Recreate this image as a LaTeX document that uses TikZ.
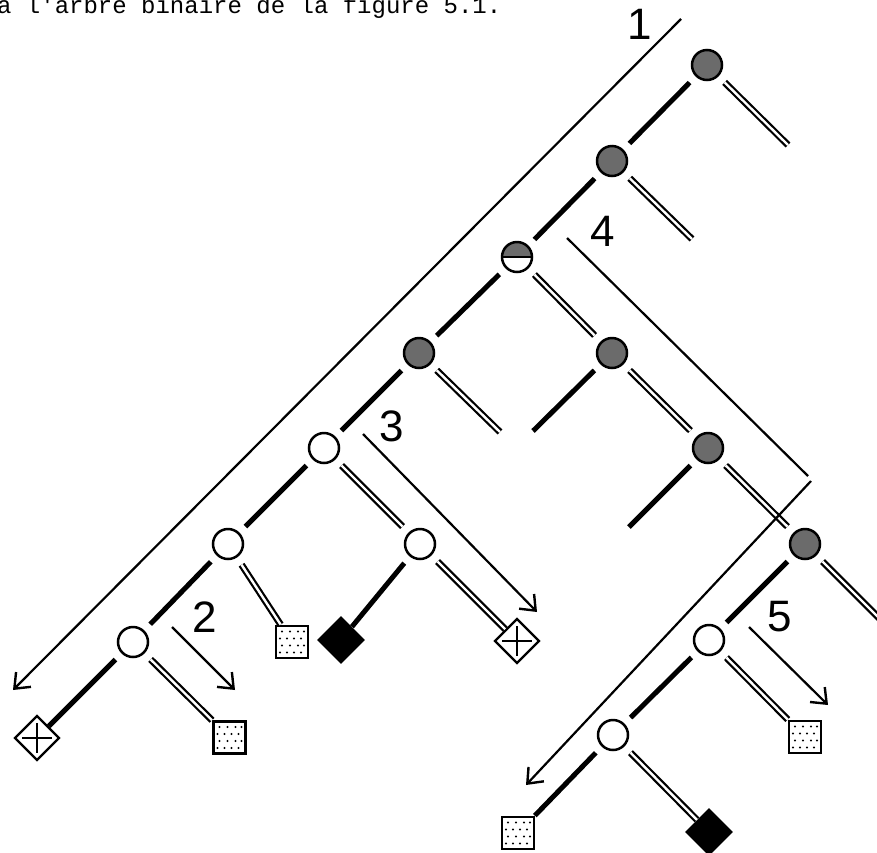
\documentclass[tikz,border=0pt]{standalone}
\usepackage{fontspec}
\setmainfont{Liberation Sans}
\newfontfamily\monofont{Liberation Mono}
\usetikzlibrary{arrows.meta,shapes.geometric}

\tikzset{
  inner/.style={circle, draw, line width=2.5pt, minimum size=30pt, inner sep=0pt},
  full/.style={inner, fill=black!58},
  empty/.style={inner, fill=white},
  half/.style={inner, fill=white, path picture={
      \fill[black!58] (path picture bounding box.west) rectangle (path picture bounding box.north east);
      \draw[black, line width=2.4pt] (path picture bounding box.west) -- (path picture bounding box.east);}},
  sqleaf/.style={rectangle, draw, line width=2.8pt, minimum size=32pt, inner sep=0pt, fill=white,
    path picture={
      \foreach \ddx/\ddy in {-10/-10.5,-2/-10.5,6/-10.5,12/-10.5,
                             -12/-3.5,-5/-3.5,2/-3.5,9/-3.5,
                             -10/3.5,-2/3.5,6/3.5,12/3.5,
                             -12/10.5,-5/10.5,2/10.5,9/10.5}
        \fill[black] (path picture bounding box.center) ++(\ddx,\ddy) circle (1.1);}},
  xleaf/.style={diamond, draw, line width=2.4pt, minimum width=45pt, minimum height=45pt, inner sep=0pt, fill=white,
    path picture={
      \draw[black, line width=2.4pt] (path picture bounding box.center) ++(-15,0) -- ++(30,0);
      \draw[black, line width=2.4pt] (path picture bounding box.center) ++(0,-15) -- ++(0,30);}},
  blackleaf/.style={diamond, fill=black, minimum width=48pt, minimum height=48pt, inner sep=0pt},
  thk/.style={line width=5pt, shorten <=8.5pt},
  dbl/.style={double, line width=2.2pt, double distance=2.4pt, shorten <=8.5pt},
  tonode/.style={shorten >=8.5pt},
  guide/.style={line width=2.2pt},
  arr/.style={guide, -{Straight Barb[length=13pt,width=21pt,line width=2.4pt]}},
  lbl/.style={font=\fontsize{44}{50}\selectfont, inner sep=0pt},
}

\begin{document}
\begin{tikzpicture}[x=1pt, y=-1pt]
\useasboundingbox (0,0) rectangle (877,852);
\clip (0,0) rectangle (877,852);

% text line above the figure
\node[anchor=base west, inner sep=0pt, font=\monofont\fontsize{24}{28}\selectfont] (caption) at (-3,13)
  {à l'arbre binaire de la figure 5.1.};

% inner nodes of the tree
\node[full]  (n1)  at (707,65)  {};
\node[full]  (n2)  at (612,161) {};
\node[half]  (n3)  at (517,257) {};
\node[full]  (n4)  at (419,353) {};
\node[empty] (n5)  at (324,448) {};
\node[empty] (n6)  at (228,544) {};
\node[empty] (n7)  at (133,642) {};
\node[empty] (n8)  at (420,544) {};
\node[full]  (n9)  at (612,353) {};
\node[full]  (n10) at (708,448) {};
\node[full]  (n11) at (805,544) {};
\node[empty] (n12) at (709,640) {};
\node[empty] (n13) at (613,735) {};

% leaves
\node[xleaf]     (x1) at (37,738)    {};
\node[sqleaf]    (s1) at (229.5,737.5) {};
\node[sqleaf]    (s2) at (292,642)   {};
\node[blackleaf] (b1) at (341,640)   {};
\node[xleaf]     (x2) at (517,641)   {};
\node[sqleaf]    (s3) at (805,737)   {};
\node[sqleaf]    (s4) at (518,833)   {};
\node[blackleaf] (b2) at (709,832)   {};

% open ends of branches
\coordinate (e1)  at (788,145);
\coordinate (e2)  at (692,239);
\coordinate (e4)  at (500,432);
\coordinate (e9)  at (533,431);
\coordinate (e10) at (629,527);
\coordinate (e11) at (895,634);

% branches between inner nodes
\draw[thk,tonode] (n1) -- (n2);
\draw[thk,tonode] (n2) -- (n3);
\draw[thk,tonode] (n3) -- (n4);
\draw[thk,tonode] (n4) -- (n5);
\draw[thk,tonode] (n5) -- (n6);
\draw[thk,tonode] (n6) -- (n7);
\draw[dbl,tonode] (n5) -- (n8);
\draw[dbl,tonode] (n3) -- (n9);
\draw[dbl,tonode] (n9) -- (n10);
\draw[dbl,tonode] (n10) -- (n11);
\draw[thk,tonode] (n11) -- (n12);
\draw[thk,tonode] (n12) -- (n13);

% branches to leaves
\draw[thk] (n7) -- (x1);
\draw[dbl] (n7) -- (s1);
\draw[dbl] (n6) -- (s2);
\draw[thk] (n8) -- (b1);
\draw[dbl] (n8) -- (x2);
\draw[dbl] (n12) -- (s3);
\draw[thk] (n13) -- (s4);
\draw[dbl] (n13) -- (b2);

% open branches
\draw[dbl] (n1) -- (e1);
\draw[dbl] (n2) -- (e2);
\draw[dbl] (n4) -- (e4);
\draw[thk] (n9) -- (e9);
\draw[thk] (n10) -- (e10);
\draw[dbl] (n11) -- (e11);

% traversal guides
\coordinate (g1a) at (681,19);   \coordinate (g1b) at (13,690);
\coordinate (g2a) at (172,627);  \coordinate (g2b) at (235,690);
\coordinate (g3a) at (363,434);  \coordinate (g3b) at (537,612);
\coordinate (g4a) at (567,238);  \coordinate (g4b) at (808,476);
\coordinate (g4c) at (811,481);  \coordinate (g4d) at (526,785);
\coordinate (g5a) at (749,627);  \coordinate (g5b) at (828,705);

\draw[arr] (g1a) -- (g1b);
\draw[arr] (g2a) -- (g2b);
\draw[arr] (g3a) -- (g3b);
\draw[guide] (g4a) -- (g4b);
\draw[arr] (g4c) -- (g4d);
\draw[arr] (g5a) -- (g5b);

% guide numbers
\node[lbl] (l1) at (640,24)  {1};
\node[lbl] (l2) at (205,617) {2};
\node[lbl] (l3) at (392,426) {3};
\node[lbl] (l4) at (603,231) {4};
\node[lbl] (l5) at (780,617) {5};
\end{tikzpicture}
\end{document}
